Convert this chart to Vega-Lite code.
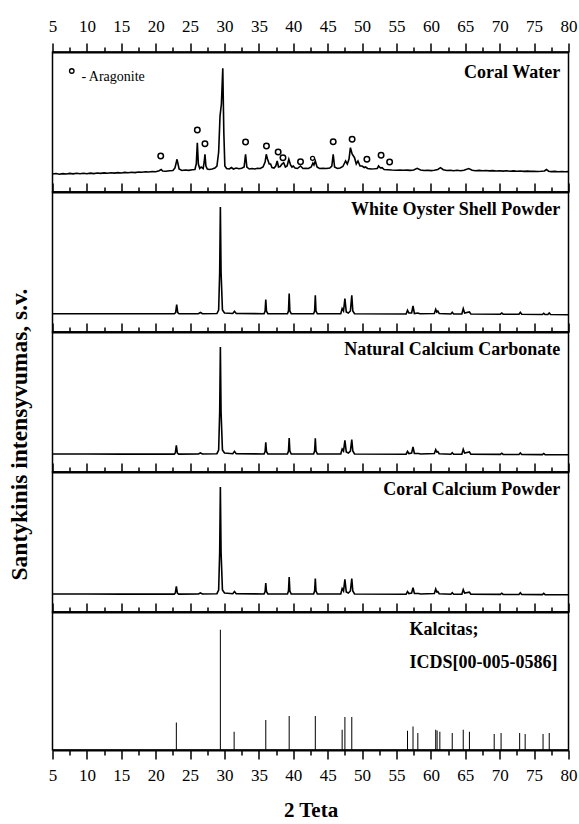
{
  "$schema": "https://vega.github.io/schema/vega-lite/v6.json",
  "background": "white",
  "padding": {"left": 6.5, "top": 16, "right": 2, "bottom": 5},
  "spacing": 0,
  "bounds": "flush",
  "config": {
    "font": "Liberation Serif",
    "view": {"stroke": "black", "strokeWidth": 1.5},
    "axis": {"labelFont": "Liberation Serif", "titleFont": "Liberation Serif", "labelColor": "black", "titleColor": "black", "domainColor": "black", "tickColor": "black", "grid": false}
  },
  "datasets": {
    "coralWater": [
      {"t":5.0,"i":18.0},{"t":5.5,"i":18.5},{"t":6.0,"i":17.8},{"t":6.5,"i":18.4},{"t":7.0,"i":18.0},{"t":7.5,"i":18.6},{"t":8.0,"i":18.1},{"t":8.5,"i":18.7},{"t":9.0,"i":18.2},{"t":9.5,"i":18.8},{"t":10.0,"i":18.3},{"t":10.5,"i":18.9},{"t":11.0,"i":18.4},{"t":11.5,"i":19.0},{"t":12.0,"i":18.6},{"t":12.5,"i":19.1},{"t":13.0,"i":18.7},{"t":13.5,"i":19.3},{"t":14.0,"i":18.9},{"t":14.5,"i":19.4},{"t":15.0,"i":19.0},{"t":15.5,"i":19.6},{"t":16.0,"i":19.2},{"t":16.5,"i":19.8},{"t":17.0,"i":19.4},{"t":17.5,"i":20.0},{"t":18.0,"i":19.7},{"t":18.5,"i":20.2},{"t":19.0,"i":20.0},{"t":19.5,"i":20.5},{"t":20.0,"i":20.3},{"t":20.5,"i":21.2},{"t":20.8,"i":22.5},{"t":21.0,"i":21.0},{"t":21.5,"i":20.8},{"t":22.0,"i":21.2},{"t":22.5,"i":21.5},{"t":22.8,"i":24.0},{"t":23.1,"i":32.7},{"t":23.4,"i":23.0},{"t":23.8,"i":21.5},{"t":24.3,"i":22.0},{"t":24.8,"i":21.6},{"t":25.3,"i":22.2},{"t":25.7,"i":22.5},{"t":25.9,"i":28.0},{"t":26.05,"i":49.3},{"t":26.2,"i":28.0},{"t":26.4,"i":23.5},{"t":26.6,"i":25.0},{"t":26.9,"i":23.5},{"t":27.05,"i":30.0},{"t":27.16,"i":37.7},{"t":27.3,"i":26.0},{"t":27.5,"i":23.0},{"t":27.8,"i":22.5},{"t":28.2,"i":23.0},{"t":28.6,"i":24.0},{"t":28.9,"i":26.0},{"t":29.15,"i":40.0},{"t":29.35,"i":76.0},{"t":29.55,"i":88.0},{"t":29.75,"i":123.7},{"t":29.9,"i":60.0},{"t":30.05,"i":26.0},{"t":30.3,"i":23.5},{"t":30.7,"i":23.0},{"t":31.0,"i":24.5},{"t":31.3,"i":23.0},{"t":31.7,"i":24.0},{"t":32.1,"i":23.3},{"t":32.5,"i":23.8},{"t":32.85,"i":25.0},{"t":33.06,"i":37.7},{"t":33.25,"i":25.0},{"t":33.6,"i":23.0},{"t":34.0,"i":23.5},{"t":34.4,"i":23.0},{"t":34.8,"i":23.8},{"t":35.2,"i":23.5},{"t":35.6,"i":25.0},{"t":35.9,"i":30.0},{"t":36.07,"i":37.7},{"t":36.25,"i":33.0},{"t":36.5,"i":28.0},{"t":36.7,"i":28.0},{"t":36.9,"i":24.5},{"t":37.2,"i":24.0},{"t":37.45,"i":26.0},{"t":37.66,"i":31.0},{"t":37.85,"i":25.0},{"t":38.1,"i":25.5},{"t":38.35,"i":28.0},{"t":38.6,"i":29.3},{"t":38.85,"i":25.0},{"t":39.1,"i":26.0},{"t":39.35,"i":32.7},{"t":39.6,"i":27.0},{"t":39.8,"i":25.0},{"t":40.0,"i":26.0},{"t":40.25,"i":24.0},{"t":40.6,"i":23.5},{"t":41.05,"i":26.0},{"t":41.4,"i":23.5},{"t":41.8,"i":23.8},{"t":42.2,"i":23.5},{"t":42.6,"i":25.0},{"t":42.85,"i":29.0},{"t":43.0,"i":27.0},{"t":43.2,"i":31.0},{"t":43.45,"i":25.0},{"t":43.8,"i":23.5},{"t":44.3,"i":23.8},{"t":44.8,"i":23.5},{"t":45.3,"i":24.0},{"t":45.6,"i":26.0},{"t":45.8,"i":37.7},{"t":46.0,"i":25.0},{"t":46.4,"i":23.5},{"t":46.8,"i":24.0},{"t":47.2,"i":25.5},{"t":47.6,"i":31.0},{"t":47.85,"i":28.0},{"t":48.1,"i":33.0},{"t":48.3,"i":44.3},{"t":48.55,"i":38.0},{"t":48.9,"i":34.3},{"t":49.15,"i":28.0},{"t":49.4,"i":31.0},{"t":49.7,"i":26.0},{"t":50.0,"i":26.0},{"t":50.3,"i":24.5},{"t":50.5,"i":25.0},{"t":50.8,"i":23.5},{"t":51.3,"i":23.0},{"t":51.8,"i":23.2},{"t":52.2,"i":23.5},{"t":52.4,"i":26.0},{"t":52.65,"i":24.0},{"t":52.9,"i":24.3},{"t":53.2,"i":22.5},{"t":53.7,"i":22.3},{"t":54.3,"i":22.0},{"t":55.0,"i":21.8},{"t":55.5,"i":22.0},{"t":56.0,"i":21.7},{"t":56.5,"i":21.9},{"t":57.0,"i":21.6},{"t":57.5,"i":22.0},{"t":58.0,"i":23.7},{"t":58.5,"i":22.0},{"t":59.0,"i":21.5},{"t":59.5,"i":21.8},{"t":60.0,"i":21.4},{"t":60.5,"i":21.8},{"t":61.0,"i":22.5},{"t":61.4,"i":24.3},{"t":61.8,"i":22.3},{"t":62.3,"i":21.5},{"t":62.8,"i":21.8},{"t":63.3,"i":21.3},{"t":63.8,"i":21.7},{"t":64.3,"i":21.3},{"t":64.8,"i":21.8},{"t":65.5,"i":23.5},{"t":66.0,"i":21.8},{"t":66.5,"i":21.3},{"t":67.0,"i":21.6},{"t":67.5,"i":21.2},{"t":68.0,"i":21.5},{"t":68.5,"i":21.1},{"t":69.0,"i":21.4},{"t":69.5,"i":21.0},{"t":70.0,"i":21.3},{"t":70.5,"i":20.9},{"t":71.0,"i":21.2},{"t":71.5,"i":20.8},{"t":72.0,"i":21.1},{"t":72.5,"i":20.7},{"t":73.0,"i":21.0},{"t":73.5,"i":20.6},{"t":74.0,"i":20.9},{"t":74.5,"i":20.6},{"t":75.0,"i":20.8},{"t":75.5,"i":20.5},{"t":76.0,"i":20.7},{"t":76.5,"i":21.0},{"t":76.8,"i":22.5},{"t":77.1,"i":20.8},{"t":77.5,"i":20.4},{"t":78.0,"i":20.6},{"t":78.5,"i":20.3},{"t":79.0,"i":20.5},{"t":79.5,"i":20.2},{"t":80.0,"i":20.4}
    ],
    "aragonite": [
      {"t":20.73,"i":36.0,"s":"big"},{"t":26.05,"i":62.0,"s":"big"},{"t":27.16,"i":48.3,"s":"big"},{"t":33.06,"i":50.0,"s":"big"},{"t":36.1,"i":46.0,"s":"big"},{"t":37.8,"i":40.0,"s":"big"},{"t":38.5,"i":34.3,"s":"big"},{"t":41.05,"i":30.3,"s":"big"},{"t":42.8,"i":33.7,"s":"small"},{"t":45.8,"i":50.3,"s":"big"},{"t":48.55,"i":52.7,"s":"big"},{"t":50.7,"i":32.7,"s":"big"},{"t":52.76,"i":36.7,"s":"big"},{"t":54.0,"i":30.0,"s":"big"}
    ],
    "oyster": [
      {"t":5,"i":18.3},{"t":10,"i":18.3},{"t":15,"i":18.2},{"t":20,"i":18.2},{"t":22.7,"i":18.2},{"t":22.9,"i":19.5},{"t":23.05,"i":27.4},{"t":23.2,"i":19.5},{"t":23.4,"i":18.2},{"t":26.2,"i":18.3},{"t":26.5,"i":19.5},{"t":26.8,"i":18.3},{"t":28.9,"i":18.5},{"t":29.15,"i":22},{"t":29.3,"i":60},{"t":29.4,"i":125},{"t":29.5,"i":60},{"t":29.7,"i":22},{"t":30.0,"i":19},{"t":31.2,"i":18.5},{"t":31.45,"i":20.7},{"t":31.7,"i":18.5},{"t":35.75,"i":18.3},{"t":35.9,"i":21},{"t":36.0,"i":32.4},{"t":36.1,"i":21},{"t":36.3,"i":18.3},{"t":39.15,"i":18.3},{"t":39.3,"i":21},{"t":39.4,"i":38.4},{"t":39.5,"i":21},{"t":39.7,"i":18.3},{"t":42.95,"i":18.2},{"t":43.1,"i":21},{"t":43.2,"i":36.7},{"t":43.3,"i":21},{"t":43.5,"i":18.2},{"t":46.9,"i":18.3},{"t":47.1,"i":23.4},{"t":47.3,"i":21},{"t":47.5,"i":33.4},{"t":47.7,"i":20},{"t":48.0,"i":19},{"t":48.3,"i":21},{"t":48.5,"i":36.7},{"t":48.65,"i":21},{"t":48.9,"i":18.3},{"t":56.4,"i":18},{"t":56.6,"i":21.7},{"t":56.8,"i":19},{"t":57.2,"i":19},{"t":57.4,"i":26},{"t":57.6,"i":18.5},{"t":58.1,"i":19},{"t":58.4,"i":18.3},{"t":60.5,"i":18.5},{"t":60.7,"i":22.7},{"t":60.85,"i":20},{"t":61.0,"i":21},{"t":61.2,"i":18.5},{"t":62.9,"i":18},{"t":63.1,"i":19.7},{"t":63.3,"i":18},{"t":64.5,"i":18},{"t":64.7,"i":23.4},{"t":64.9,"i":19},{"t":65.6,"i":20},{"t":65.8,"i":18},{"t":70.1,"i":17.8},{"t":70.3,"i":19},{"t":70.5,"i":17.8},{"t":72.8,"i":17.7},{"t":73.0,"i":19.7},{"t":73.2,"i":17.7},{"t":76.2,"i":17.5},{"t":76.4,"i":18.7},{"t":76.6,"i":17.5},{"t":77.0,"i":17.5},{"t":77.2,"i":19},{"t":77.4,"i":17.5},{"t":80,"i":17.3}
    ],
    "natural": [
      {"t":5,"i":18},{"t":10,"i":18},{"t":15,"i":17.9},{"t":20,"i":17.9},{"t":22.7,"i":17.9},{"t":22.85,"i":19},{"t":23.0,"i":26.7},{"t":23.15,"i":19},{"t":23.35,"i":17.9},{"t":26.2,"i":18},{"t":26.5,"i":19},{"t":26.8,"i":18},{"t":28.9,"i":18.3},{"t":29.15,"i":22},{"t":29.3,"i":60},{"t":29.4,"i":125},{"t":29.5,"i":60},{"t":29.7,"i":22},{"t":30.0,"i":19},{"t":31.2,"i":18.3},{"t":31.45,"i":20.7},{"t":31.7,"i":18.3},{"t":35.75,"i":18},{"t":35.9,"i":20.5},{"t":36.0,"i":29.7},{"t":36.1,"i":20.5},{"t":36.3,"i":18},{"t":39.15,"i":18},{"t":39.3,"i":21},{"t":39.4,"i":34},{"t":39.5,"i":21},{"t":39.7,"i":18},{"t":42.95,"i":18},{"t":43.1,"i":21},{"t":43.2,"i":33.7},{"t":43.3,"i":21},{"t":43.5,"i":18},{"t":46.9,"i":18},{"t":47.1,"i":23},{"t":47.3,"i":21},{"t":47.5,"i":31.7},{"t":47.7,"i":20},{"t":48.0,"i":19},{"t":48.3,"i":21},{"t":48.5,"i":32.4},{"t":48.65,"i":21},{"t":48.9,"i":18},{"t":56.4,"i":17.8},{"t":56.6,"i":20.7},{"t":56.8,"i":18.5},{"t":57.2,"i":19},{"t":57.4,"i":25},{"t":57.6,"i":18.5},{"t":58.2,"i":18.5},{"t":58.5,"i":18},{"t":60.5,"i":18.5},{"t":60.7,"i":22.4},{"t":60.85,"i":20},{"t":61.0,"i":20.5},{"t":61.2,"i":18.3},{"t":62.9,"i":17.8},{"t":63.1,"i":19.3},{"t":63.3,"i":17.8},{"t":64.5,"i":17.8},{"t":64.7,"i":22.7},{"t":64.9,"i":19},{"t":65.6,"i":20},{"t":65.8,"i":17.8},{"t":70.1,"i":17.6},{"t":70.3,"i":18.8},{"t":70.5,"i":17.6},{"t":72.8,"i":17.5},{"t":73.0,"i":19},{"t":73.2,"i":17.5},{"t":76.2,"i":17.4},{"t":76.4,"i":18.5},{"t":76.6,"i":17.4},{"t":80,"i":17.3}
    ],
    "coralCalcium": [
      {"t":5,"i":18},{"t":10,"i":18},{"t":15,"i":17.9},{"t":20,"i":17.9},{"t":22.7,"i":17.9},{"t":22.85,"i":19},{"t":23.0,"i":25.7},{"t":23.15,"i":19},{"t":23.35,"i":17.9},{"t":26.2,"i":18},{"t":26.5,"i":19},{"t":26.8,"i":18},{"t":28.9,"i":18.3},{"t":29.15,"i":22},{"t":29.3,"i":60},{"t":29.4,"i":125},{"t":29.5,"i":60},{"t":29.7,"i":22},{"t":30.0,"i":19},{"t":31.2,"i":18.3},{"t":31.45,"i":20.5},{"t":31.7,"i":18.3},{"t":35.75,"i":18},{"t":35.9,"i":20.5},{"t":36.0,"i":29},{"t":36.1,"i":20.5},{"t":36.3,"i":18},{"t":39.15,"i":18},{"t":39.3,"i":21},{"t":39.4,"i":35},{"t":39.5,"i":21},{"t":39.7,"i":18},{"t":42.95,"i":18},{"t":43.1,"i":21},{"t":43.2,"i":33.4},{"t":43.3,"i":21},{"t":43.5,"i":18},{"t":46.9,"i":18},{"t":47.1,"i":23.4},{"t":47.3,"i":21},{"t":47.5,"i":32.7},{"t":47.7,"i":20},{"t":48.0,"i":19},{"t":48.3,"i":21},{"t":48.5,"i":33.4},{"t":48.65,"i":21},{"t":48.9,"i":18},{"t":56.4,"i":17.8},{"t":56.6,"i":20.5},{"t":56.8,"i":18.5},{"t":57.2,"i":19},{"t":57.4,"i":24.4},{"t":57.6,"i":18.5},{"t":58.2,"i":18.5},{"t":58.5,"i":18},{"t":60.5,"i":18.5},{"t":60.7,"i":23},{"t":60.85,"i":20},{"t":61.0,"i":20.5},{"t":61.2,"i":18.3},{"t":62.9,"i":17.8},{"t":63.1,"i":19.3},{"t":63.3,"i":17.8},{"t":64.5,"i":17.8},{"t":64.7,"i":22.4},{"t":64.9,"i":19},{"t":65.6,"i":19.8},{"t":65.8,"i":17.8},{"t":70.1,"i":17.6},{"t":70.3,"i":18.8},{"t":70.5,"i":17.6},{"t":72.8,"i":17.5},{"t":73.0,"i":19.2},{"t":73.2,"i":17.5},{"t":76.2,"i":17.4},{"t":76.4,"i":18.6},{"t":76.6,"i":17.4},{"t":80,"i":17.3}
    ],
    "kalcitas": [
      {"t":23.0,"i":27.8},{"t":29.4,"i":122},{"t":31.4,"i":18.5},{"t":36.0,"i":30.5},{"t":39.4,"i":34.5},{"t":43.2,"i":34.5},{"t":47.1,"i":20.5},{"t":47.5,"i":33.5},{"t":48.5,"i":33.5},{"t":56.6,"i":19.5},{"t":57.4,"i":23.8},{"t":58.1,"i":17.2},{"t":60.7,"i":20.5},{"t":60.9,"i":19.8},{"t":61.3,"i":18.5},{"t":63.1,"i":17.2},{"t":64.7,"i":20.5},{"t":65.6,"i":18.5},{"t":69.2,"i":16.2},{"t":70.2,"i":17.2},{"t":72.9,"i":17.2},{"t":73.7,"i":16.2},{"t":76.3,"i":16.2},{"t":77.2,"i":17.2}
    ]
  },
  "vconcat": [
    {
      "width": 516, "height": 140,
      "encoding": {
        "x": {"field": "t", "type": "quantitative", "scale": {"domain": [5, 80], "nice": false, "zero": false},
          "axis": {"orient": "top", "title": null, "values": [5,7.5,10,12.5,15,17.5,20,22.5,25,27.5,30,32.5,35,37.5,40,42.5,45,47.5,50,52.5,55,57.5,60,62.5,65,67.5,70,72.5,75,77.5,80],
            "tickSize": {"condition": {"test": "datum.value % 5 === 0", "value": 9}, "value": 5},
            "tickWidth": 1.5, "domainWidth": 2, "labelExpr": "datum.value % 5 === 0 ? datum.label : ''",
            "labelFontSize": 17, "labelPadding": 8, "labelOverlap": false, "labelFlush": false, "labelBound": false}},
        "y": {"field": "i", "type": "quantitative", "scale": {"domain": [0, 140]}, "axis": null}
      },
      "layer": [
        {
          "data": {"name": "coralWater"},
          "mark": {"type": "line", "color": "black", "strokeWidth": 1.6}
        },
        {
          "data": {"name": "aragonite"},
          "transform": [{"filter": "datum.s === 'big'"}],
          "mark": {"type": "point", "shape": "circle", "filled": false, "color": "black", "strokeWidth": 1.5, "size": 30, "opacity": 1}
        },
        {
          "data": {"name": "aragonite"},
          "transform": [{"filter": "datum.s === 'small'"}],
          "mark": {"type": "point", "shape": "circle", "filled": false, "color": "black", "strokeWidth": 1.3, "size": 16, "opacity": 1}
        },
        {
          "data": {"values": [{"t": 7.8, "i": 121}]},
          "mark": {"type": "point", "shape": "circle", "filled": false, "color": "black", "strokeWidth": 1.3, "size": 20, "opacity": 1}
        },
        {
          "data": {"values": [{"t": 9.2, "i": 111, "label": "- Aragonite"}]},
          "mark": {"type": "text", "align": "left", "baseline": "alphabetic", "fontSize": 14, "font": "Liberation Serif", "color": "black"},
          "encoding": {"text": {"field": "label"}}
        },
        {
          "data": {"values": [{"t": 78.8, "i": 114.3, "label": "Coral Water"}]},
          "mark": {"type": "text", "align": "right", "baseline": "alphabetic", "fontSize": 18, "fontWeight": "bold", "font": "Liberation Serif", "color": "black"},
          "encoding": {"text": {"field": "label"}}
        }
      ]
    },
    {
      "width": 516, "height": 140,
      "encoding": {
        "x": {"field": "t", "type": "quantitative", "scale": {"domain": [5, 80], "nice": false, "zero": false},
          "axis": {"orient": "top", "title": null, "values": [5,7.5,10,12.5,15,17.5,20,22.5,25,27.5,30,32.5,35,37.5,40,42.5,45,47.5,50,52.5,55,57.5,60,62.5,65,67.5,70,72.5,75,77.5,80],
            "tickSize": {"condition": {"test": "datum.value % 5 === 0", "value": 9}, "value": 5},
            "tickWidth": 1.5, "domainWidth": 2, "labels": false}},
        "y": {"field": "i", "type": "quantitative", "scale": {"domain": [0, 140]}, "axis": null}
      },
      "layer": [
        {
          "data": {"name": "oyster"},
          "mark": {"type": "line", "color": "black", "strokeWidth": 1.6}
        },
        {
          "data": {"values": [{"t": 78.8, "i": 116.7, "label": "White Oyster Shell Powder"}]},
          "mark": {"type": "text", "align": "right", "baseline": "alphabetic", "fontSize": 18, "fontWeight": "bold", "font": "Liberation Serif", "color": "black"},
          "encoding": {"text": {"field": "label"}}
        }
      ]
    },
    {
      "width": 516, "height": 140,
      "encoding": {
        "x": {"field": "t", "type": "quantitative", "scale": {"domain": [5, 80], "nice": false, "zero": false},
          "axis": {"orient": "top", "title": null, "values": [5,7.5,10,12.5,15,17.5,20,22.5,25,27.5,30,32.5,35,37.5,40,42.5,45,47.5,50,52.5,55,57.5,60,62.5,65,67.5,70,72.5,75,77.5,80],
            "tickSize": {"condition": {"test": "datum.value % 5 === 0", "value": 9}, "value": 5},
            "tickWidth": 1.5, "domainWidth": 2, "labels": false}},
        "y": {"field": "i", "type": "quantitative", "scale": {"domain": [0, 140]},
          "axis": {"title": "Santykinis intensyvumas, s.v.", "labels": false, "ticks": false, "domain": false, "titleFontSize": 23.5, "titleFontWeight": "bold", "titlePadding": 21, "titleY": 102}}
      },
      "layer": [
        {
          "data": {"name": "natural"},
          "mark": {"type": "line", "color": "black", "strokeWidth": 1.6}
        },
        {
          "data": {"values": [{"t": 78.8, "i": 116.7, "label": "Natural Calcium Carbonate"}]},
          "mark": {"type": "text", "align": "right", "baseline": "alphabetic", "fontSize": 18, "fontWeight": "bold", "font": "Liberation Serif", "color": "black"},
          "encoding": {"text": {"field": "label"}}
        }
      ]
    },
    {
      "width": 516, "height": 140,
      "encoding": {
        "x": {"field": "t", "type": "quantitative", "scale": {"domain": [5, 80], "nice": false, "zero": false},
          "axis": {"orient": "top", "title": null, "values": [5,7.5,10,12.5,15,17.5,20,22.5,25,27.5,30,32.5,35,37.5,40,42.5,45,47.5,50,52.5,55,57.5,60,62.5,65,67.5,70,72.5,75,77.5,80],
            "tickSize": {"condition": {"test": "datum.value % 5 === 0", "value": 9}, "value": 5},
            "tickWidth": 1.5, "domainWidth": 2, "labels": false}},
        "y": {"field": "i", "type": "quantitative", "scale": {"domain": [0, 140]}, "axis": null}
      },
      "layer": [
        {
          "data": {"name": "coralCalcium"},
          "mark": {"type": "line", "color": "black", "strokeWidth": 1.6}
        },
        {
          "data": {"values": [{"t": 78.8, "i": 116.7, "label": "Coral Calcium Powder"}]},
          "mark": {"type": "text", "align": "right", "baseline": "alphabetic", "fontSize": 18, "fontWeight": "bold", "font": "Liberation Serif", "color": "black"},
          "encoding": {"text": {"field": "label"}}
        }
      ]
    },
    {
      "width": 516, "height": 138,
      "resolve": {"axis": {"x": "independent"}},
      "layer": [
        {
          "data": {"name": "kalcitas"},
          "mark": {"type": "bar", "color": "black", "width": 1},
          "encoding": {
            "x": {"field": "t", "type": "quantitative", "scale": {"domain": [5, 80], "nice": false, "zero": false, "padding": 0},
              "axis": {"orient": "top", "title": null, "values": [5,7.5,10,12.5,15,17.5,20,22.5,25,27.5,30,32.5,35,37.5,40,42.5,45,47.5,50,52.5,55,57.5,60,62.5,65,67.5,70,72.5,75,77.5,80],
                "tickSize": {"condition": {"test": "datum.value % 5 === 0", "value": 9}, "value": 5},
                "tickWidth": 1.5, "domainWidth": 2, "labels": false}},
            "y": {"field": "i", "type": "quantitative", "scale": {"domain": [0, 138], "padding": 0}, "axis": null}
          }
        },
        {
          "data": {"values": [{"t": 56.9, "i": 116.5, "label": "Kalcitas;"}]},
          "mark": {"type": "text", "align": "left", "baseline": "alphabetic", "fontSize": 18, "fontWeight": "bold", "font": "Liberation Serif", "color": "black"},
          "encoding": {
            "x": {"field": "t", "type": "quantitative",
              "axis": {"orient": "bottom", "title": "2 Teta", "values": [5,7.5,10,12.5,15,17.5,20,22.5,25,27.5,30,32.5,35,37.5,40,42.5,45,47.5,50,52.5,55,57.5,60,62.5,65,67.5,70,72.5,75,77.5,80],
                "tickSize": {"condition": {"test": "datum.value % 5 === 0", "value": 9}, "value": 5},
                "tickWidth": 1.5, "domainWidth": 2, "labelExpr": "datum.value % 5 === 0 ? datum.label : ''",
                "labelFontSize": 17, "labelPadding": 8, "labelOverlap": false, "labelFlush": false, "labelBound": false,
                "titleFontSize": 21, "titleFontWeight": "bold", "titlePadding": 16}},
            "y": {"field": "i", "type": "quantitative", "axis": null},
            "text": {"field": "label"}
          }
        },
        {
          "data": {"values": [{"t": 56.9, "i": 82.8, "label": "ICDS[00-005-0586]"}]},
          "mark": {"type": "text", "align": "left", "baseline": "alphabetic", "fontSize": 18, "fontWeight": "bold", "font": "Liberation Serif", "color": "black"},
          "encoding": {"x": {"field": "t", "type": "quantitative", "axis": null}, "y": {"field": "i", "type": "quantitative", "axis": null}, "text": {"field": "label"}}
        }
      ]
    }
  ]
}
